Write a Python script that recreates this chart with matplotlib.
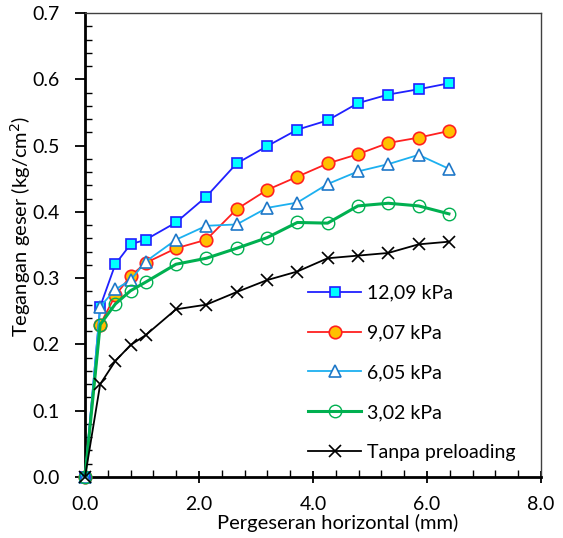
import numpy as np
import matplotlib.pyplot as plt
from matplotlib.ticker import MultipleLocator, FormatStrFormatter

plt.rcParams['font.family'] = ['Lato', 'DejaVu Sans']

# displacement (mm)
x = [0, 0.266, 0.532, 0.798, 1.064, 1.596, 2.128, 2.66, 3.192, 3.724, 4.256, 4.788, 5.32, 5.852, 6.384]

# shear stress (kg/cm2)
s_1209 = [0, 0.257, 0.321, 0.351, 0.358, 0.384, 0.423, 0.473, 0.499, 0.524, 0.538, 0.564, 0.577, 0.585, 0.594]
s_907 = [0, 0.230, 0.274, 0.303, 0.323, 0.345, 0.358, 0.404, 0.433, 0.453, 0.473, 0.487, 0.504, 0.512, 0.522]
s_605 = [0, 0.257, 0.283, 0.297, 0.325, 0.358, 0.379, 0.381, 0.406, 0.414, 0.442, 0.461, 0.472, 0.486, 0.465]
s_302 = [0, 0.230, 0.261, 0.281, 0.294, 0.321, 0.330, 0.345, 0.361, 0.384, 0.383, 0.409, 0.413, 0.409, 0.397]
s_none = [0, 0.140, 0.175, 0.199, 0.214, 0.253, 0.260, 0.279, 0.297, 0.310, 0.330, 0.334, 0.338, 0.351, 0.355]

labels = ['12,09 kPa', '9,07 kPa', '6,05 kPa', '3,02 kPa', 'Tanpa preloading']

fig = plt.figure(figsize=(5.63, 5.38), dpi=100)
ax = fig.add_axes([0.151, 0.1134, 0.810, 0.8624])

ax.plot(x, s_1209, color='#2020FF', lw=1.3, marker='s', ms=7.5, mfc='#00FFFF', mec='#2020FF', mew=1.2, label=labels[0], clip_on=False, zorder=5)
ax.plot(x, s_907, color='#FF2020', lw=1.3, marker='o', ms=9, mfc='#FFC000', mec='#FF2020', mew=1.2, label=labels[1], clip_on=False, zorder=4)
ax.plot(x, s_605, color='#1CB0F0', lw=1.3, marker='^', ms=9, mfc='white', mec='#1F78C8', mew=1.2, label=labels[2], clip_on=False, zorder=6)
ax.plot(x, s_302, color='#00B050', lw=2.2, marker='o', ms=9, mfc='none', mec='#00B050', mew=1.0, label=labels[3], clip_on=False, zorder=7)
ax.plot(x, s_none, color='black', lw=1.3, marker='x', ms=8, mew=1.2, label=labels[4], clip_on=False, zorder=8)

ax.set_xlim(0, 8)
ax.set_ylim(0, 0.7)
ax.xaxis.set_major_locator(MultipleLocator(2))
ax.xaxis.set_minor_locator(MultipleLocator(0.4))
ax.yaxis.set_major_locator(MultipleLocator(0.1))
ax.yaxis.set_minor_locator(MultipleLocator(0.02))
ax.xaxis.set_major_formatter(FormatStrFormatter('%.1f'))
ax.yaxis.set_major_formatter(FormatStrFormatter('%.1f'))

ax.tick_params(axis='x', which='major', direction='inout', length=9, width=1.3, labelsize=14, pad=9)
ax.tick_params(axis='x', which='minor', direction='in', length=5, width=1)
ax.tick_params(axis='y', which='major', direction='out', length=7, width=1.3, labelsize=14, pad=11)
ax.tick_params(axis='y', which='minor', direction='in', length=5, width=1)

for side in ['left', 'bottom']:
    ax.spines[side].set_linewidth(2)
    ax.spines[side].set_color('black')
for side in ['top', 'right']:
    ax.spines[side].set_linewidth(1)
    ax.spines[side].set_color('#404040')

ax.set_xlabel('Pergeseran horizontal (mm)', fontsize=14.5, labelpad=1)
ax.set_ylabel('Tegangan geser (kg/cm$^2$)', fontsize=14.5, labelpad=0)
ax.xaxis.label.set_x(0.553)
ax.yaxis.label.set_y(0.541)

ax.legend(loc='lower left', bbox_to_anchor=(0.49, 0.035), frameon=False, fontsize=14,
          handlelength=2.7, handletextpad=0.3, labelspacing=1.17, borderaxespad=0, borderpad=0)

fig.savefig('out.png', dpi=100)
